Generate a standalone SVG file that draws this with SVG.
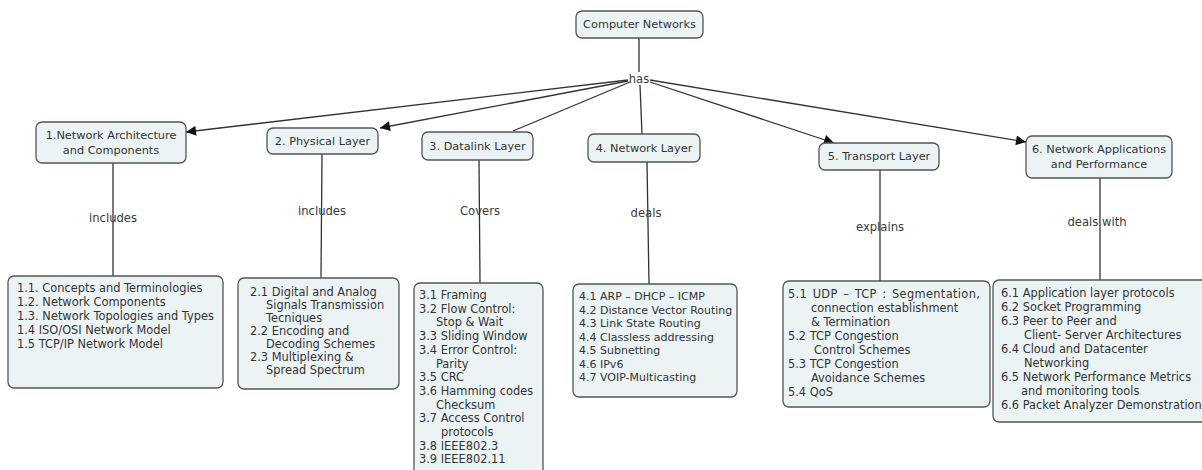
<svg xmlns="http://www.w3.org/2000/svg" width="1202" height="470" viewBox="0 0 1202 470">
<defs>
<marker id="arr" viewBox="0 0 10 10" refX="10" refY="5" markerWidth="11" markerHeight="10" markerUnits="userSpaceOnUse" orient="auto">
<path d="M0,0 L10,5 L0,10 z" fill="#111"/>
</marker>
<style>
.box{fill:#ebf3f5;stroke:#555;stroke-width:1.3}
.t{font-family:"DejaVu Sans",Verdana,sans-serif;font-size:11.4px;fill:#333}
.h{font-size:11.3px}
.s{font-size:11px}
.c{text-anchor:middle}
.ln{stroke:#333;stroke-width:1.3;fill:none}
.lab{font-family:"DejaVu Sans",Verdana,sans-serif;font-size:11.6px;fill:#3a3a3a;text-anchor:middle}
</style>
</defs>
<rect width="1202" height="470" fill="#fff"/>
<g id="connectors">
<path class="ln" d="M639,38 L639,72"/>
<path class="ln" d="M628,80 L186,132" marker-end="url(#arr)"/>
<path class="ln" d="M628,81 L380,128" marker-end="url(#arr)"/>
<path class="ln" d="M630,82 L513,131"/>
<path class="ln" d="M640,85 L642,134"/>
<path class="ln" d="M650,82 L834,143" marker-end="url(#arr)"/>
<path class="ln" d="M650,80 L1026,142" marker-end="url(#arr)"/>
<path class="ln" d="M113,163 L113,276"/>
<path class="ln" d="M322,154 L321,278"/>
<path class="ln" d="M479,160 L480,283"/>
<path class="ln" d="M647,162 L649,284"/>
<path class="ln" d="M880,170 L880,281"/>
<path class="ln" d="M1100,178 L1100,280"/>
<text class="lab" x="639" y="83">has</text>
<text class="lab" x="113" y="222">includes</text>
<text class="lab" x="322" y="215">includes</text>
<text class="lab" x="480" y="215">Covers</text>
<text class="lab" x="646" y="217">deals</text>
<text class="lab" x="880" y="231">explains</text>
<text class="lab" x="1097" y="226">deals with</text>
</g>
<g id="n0">
<rect class="box" x="576" y="11" width="127" height="27" rx="6"/>
<text class="t h c" x="639.5" y="28">Computer Networks</text>
</g>
<g id="n1">
<rect class="box" x="36" y="122" width="150" height="41" rx="6"/>
<text class="t h c" x="111" y="139">1.Network Architecture</text>
<text class="t h c" x="111" y="154">and Components</text>
</g>
<g id="n2">
<rect class="box" x="267" y="128" width="111" height="26" rx="6"/>
<text class="t h c" x="322.5" y="145">2. Physical Layer</text>
</g>
<g id="n3">
<rect class="box" x="422" y="132" width="111" height="28" rx="6"/>
<text class="t h c" x="477.5" y="150">3. Datalink Layer</text>
</g>
<g id="n4">
<rect class="box" x="588" y="134" width="112" height="28" rx="6"/>
<text class="t h c" x="644" y="152">4. Network Layer</text>
</g>
<g id="n5">
<rect class="box" x="819" y="143" width="120" height="27" rx="6"/>
<text class="t h c" x="879" y="160">5. Transport Layer</text>
</g>
<g id="n6">
<rect class="box" x="1026" y="136" width="146" height="42" rx="6"/>
<text class="t h c" x="1099" y="153">6. Network Applications</text>
<text class="t h c" x="1099" y="168">and Performance</text>
</g>
<g id="n1c">
<rect class="box" x="8" y="276" width="215" height="112" rx="6"/>
<text class="t" x="17" y="292">1.1. Concepts and Terminologies</text>
<text class="t" x="17" y="306">1.2. Network Components</text>
<text class="t" x="17" y="320">1.3. Network Topologies and Types</text>
<text class="t" x="17" y="334">1.4 ISO/OSI Network Model</text>
<text class="t" x="17" y="348">1.5 TCP/IP Network Model</text>
</g>
<g id="n2c">
<rect class="box" x="238" y="278" width="161" height="111" rx="6"/>
<text class="t" x="250" y="296">2.1 Digital and Analog</text>
<text class="t" x="266" y="309">Signals Transmission</text>
<text class="t" x="266" y="322">Tecniques</text>
<text class="t" x="250" y="335">2.2 Encoding and</text>
<text class="t" x="266" y="348">Decoding Schemes</text>
<text class="t" x="250" y="361">2.3 Multiplexing &amp;</text>
<text class="t" x="266" y="374">Spread Spectrum</text>
</g>
<g id="n3c">
<rect class="box" x="414" y="283" width="129" height="200" rx="6"/>
<text class="t" x="419" y="299">3.1 Framing</text>
<text class="t" x="419" y="312.7">3.2 Flow Control:</text>
<text class="t" x="436" y="326.4">Stop &amp; Wait</text>
<text class="t" x="419" y="340.1">3.3 Sliding Window</text>
<text class="t" x="419" y="353.8">3.4 Error Control:</text>
<text class="t" x="436" y="367.5">Parity</text>
<text class="t" x="419" y="381.2">3.5 CRC</text>
<text class="t" x="419" y="394.9">3.6 Hamming codes</text>
<text class="t" x="436" y="408.6">Checksum</text>
<text class="t" x="419" y="422.3">3.7 Access Control</text>
<text class="t" x="441" y="436">protocols</text>
<text class="t" x="419" y="449.7">3.8 IEEE802.3</text>
<text class="t" x="419" y="463.4">3.9 IEEE802.11</text>
</g>
<g id="n4c">
<rect class="box" x="573" y="284" width="164" height="113" rx="6"/>
<text class="t s" x="579" y="300">4.1 ARP – DHCP – ICMP</text>
<text class="t s" x="579" y="313.5">4.2 Distance Vector Routing</text>
<text class="t s" x="579" y="327">4.3 Link State Routing</text>
<text class="t s" x="579" y="340.5">4.4 Classless addressing</text>
<text class="t s" x="579" y="354">4.5 Subnetting</text>
<text class="t s" x="579" y="367.5">4.6 IPv6</text>
<text class="t s" x="579" y="381">4.7 VOIP-Multicasting</text>
</g>
<g id="n5c">
<rect class="box" x="783" y="281" width="207" height="126" rx="6"/>
<text class="t" x="788" y="298" word-spacing="1.5" letter-spacing="0.35">5.1 UDP – TCP : Segmentation,</text>
<text class="t" x="811" y="312">connection establishment</text>
<text class="t" x="811" y="326">&amp; Termination</text>
<text class="t" x="788" y="340">5.2 TCP Congestion</text>
<text class="t" x="814" y="354">Control Schemes</text>
<text class="t" x="788" y="368">5.3 TCP Congestion</text>
<text class="t" x="811" y="382">Avoidance Schemes</text>
<text class="t" x="788" y="396">5.4 QoS</text>
</g>
<g id="n6c">
<rect class="box" x="993" y="280" width="216" height="142" rx="6"/>
<text class="t" x="1001" y="297">6.1 Application layer protocols</text>
<text class="t" x="1001" y="311">6.2 Socket Programming</text>
<text class="t" x="1001" y="325">6.3 Peer to Peer and</text>
<text class="t" x="1024" y="339">Client- Server Architectures</text>
<text class="t" x="1001" y="353">6.4 Cloud and Datacenter</text>
<text class="t" x="1024" y="367">Networking</text>
<text class="t" x="1001" y="381">6.5 Network Performance Metrics</text>
<text class="t" x="1021" y="395">and monitoring tools</text>
<text class="t" x="1001" y="409">6.6 Packet Analyzer Demonstration</text>
</g>
</svg>
